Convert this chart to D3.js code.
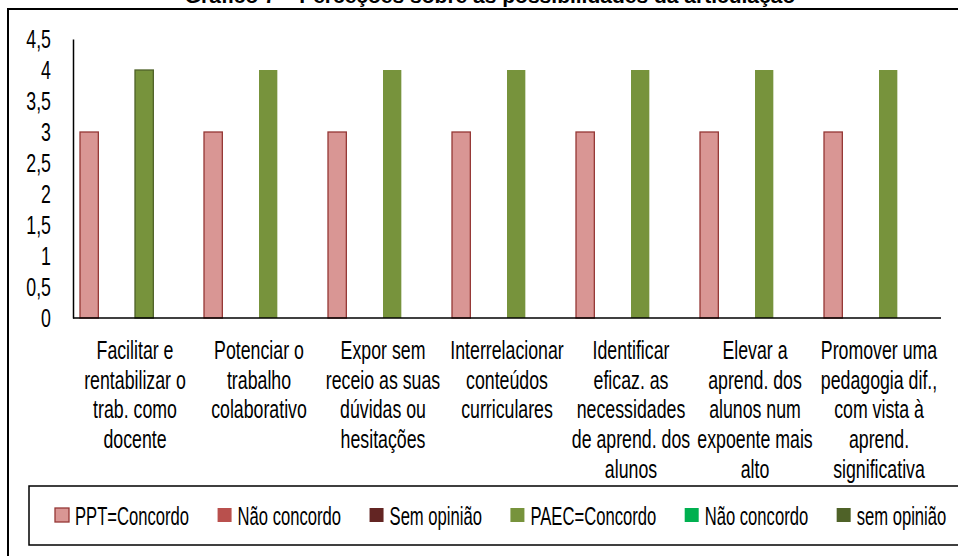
<!DOCTYPE html>
<html>
<head>
<meta charset="utf-8">
<title>Gráfico 7</title>
<script src="https://d3js.org/d3.v7.min.js"></script>
<style>
  body { margin: 0; background: #fff; }
  svg { display: block; }
</style>
</head>
<body>
<div id="chart"></div>
<script>
// chart data
var titleText = "Gráfico 7 – Perceções sobre as possibilidades da articulação";
var categories = [
  ["Facilitar e", "rentabilizar o", "trab. como", "docente"],
  ["Potenciar o", "trabalho", "colaborativo"],
  ["Expor sem", "receio as suas", "dúvidas ou", "hesitações"],
  ["Interrelacionar", "conteúdos", "curriculares"],
  ["Identificar", "eficaz. as", "necessidades", "de aprend. dos", "alunos"],
  ["Elevar a", "aprend. dos", "alunos num", "expoente mais", "alto"],
  ["Promover uma", "pedagogia dif.,", "com vista à", "aprend.", "significativa"]
];
var seriesNames = ["PPT=Concordo", "Não concordo", "Sem opinião", "PAEC=Concordo", "Não concordo", "sem opinião"];
var pptConcordo   = [3, 3, 3, 3, 3, 3, 3];
var pptNao        = [0, 0, 0, 0, 0, 0, 0];
var pptSem        = [0, 0, 0, 0, 0, 0, 0];
var paecConcordo  = [4, 4, 4, 4, 4, 4, 4];
var paecNao       = [0, 0, 0, 0, 0, 0, 0];
var paecSem       = [0, 0, 0, 0, 0, 0, 0];
var yTicks = [0, 0.5, 1, 1.5, 2, 2.5, 3, 3.5, 4, 4.5];

var seriesValues = [pptConcordo, pptNao, pptSem, paecConcordo, paecNao, paecSem];
var fills   = ["#D99694", "#B9504D", "#632523", "#77933C", "#00B050", "#4F6228"];
var strokes = ["#953735", "none", "none", "none", "none", "none"];

var W = 958, H = 556;
var labelFont = "'Liberation Sans', Arial, sans-serif";
var squeeze = 0.71;     // original uses a very condensed face
var legSqueeze = 0.665;

var svg = d3.select("#chart").append("svg")
    .attr("width", W).attr("height", H);

// outer frame
svg.append("rect")
    .attr("x", 8).attr("y", 9)
    .attr("width", W + 20).attr("height", H + 20)
    .attr("fill", "none").attr("stroke", "#000").attr("stroke-width", 2);

// title (cut at the top like the original)
svg.append("text")
    .attr("x", 490).attr("y", 3)
    .attr("text-anchor", "middle")
    .attr("font-family", "'Liberation Sans', Arial, sans-serif")
    .attr("font-weight", "bold")
    .attr("font-size", 21)
    .text(titleText);

var x0 = d3.scaleBand()
    .domain(d3.range(categories.length))
    .range([73, 941])
    .paddingInner(0.113)
    .paddingOuter(0.0565);

var x1 = d3.scaleBand()
    .domain(d3.range(seriesNames.length))
    .range([0, x0.bandwidth()]);

var y = d3.scaleLinear().domain([0, 4.5]).range([318, 39]);

// bars
var rows = [];
seriesValues.forEach(function(vals, s) {
  vals.forEach(function(v, c) {
    if (v > 0) rows.push({s: s, c: c, v: v});
  });
});

svg.append("g").selectAll("rect")
    .data(rows)
    .enter().append("rect")
    .attr("x", function(d) { return x0(d.c) + x1(d.s); })
    .attr("y", function(d) { return y(d.v); })
    .attr("width", x1.bandwidth())
    .attr("height", function(d) { return y(0) - y(d.v); })
    .attr("fill", function(d) { return fills[d.s]; })
    .attr("stroke", function(d) {
      // first PAEC bar is shown selected in the original
      if (d.s === 3 && d.c === 0) return "#4F6228";
      return strokes[d.s];
    })
    .attr("stroke-width", 1.3);

// y axis
var yAxis = d3.axisLeft(y)
    .tickValues(yTicks)
    .tickSize(0)
    .tickPadding(22)
    .tickFormat(function(d) { return String(d).replace(".", ","); });

var gy = svg.append("g")
    .attr("transform", "translate(73,0)")
    .call(yAxis);
gy.select(".domain").attr("stroke", "#000").attr("stroke-width", 1.5);
gy.selectAll("text")
    .attr("font-family", labelFont)
    .attr("font-size", 25)
    .attr("fill", "#000")
    .attr("dy", "0.35em")
    .attr("x", null)
    .attr("transform", "translate(-22,0) scale(" + squeeze + ",1)");

// x axis line
svg.append("line")
    .attr("x1", 73).attr("x2", 941)
    .attr("y1", y(0)).attr("y2", y(0))
    .attr("stroke", "#000").attr("stroke-width", 1.5);

// category labels
var lab = svg.append("g").selectAll("text")
    .data(categories)
    .enter().append("text")
    .attr("text-anchor", "middle")
    .attr("font-family", labelFont)
    .attr("font-size", 25)
    .attr("fill", "#000")
    .attr("transform", function(d, i) {
      return "translate(" + (x0(i) + x0.bandwidth() / 2) + ",359) scale(" + squeeze + ",1)";
    });
lab.selectAll("tspan")
    .data(function(d) { return d; })
    .enter().append("tspan")
    .attr("x", 0)
    .attr("y", function(d, j) { return j * 29.7; })
    .text(function(d) { return d; });

// legend
svg.append("rect")
    .attr("x", 29).attr("y", 486)
    .attr("width", W).attr("height", 59)
    .attr("fill", "#fff").attr("stroke", "#000").attr("stroke-width", 1.5);

var lx = 55;
seriesNames.forEach(function(name, s) {
  var g = svg.append("g");
  g.append("rect")
      .attr("x", lx).attr("y", 508)
      .attr("width", 14).attr("height", 14)
      .attr("fill", fills[s])
      .attr("stroke", s === 0 ? strokes[0] : "none")
      .attr("stroke-width", 1.3);
  var t = g.append("text")
      .attr("font-family", labelFont)
      .attr("font-size", 25)
      .attr("fill", "#000")
      .attr("transform", "translate(" + (lx + 20) + ",525) scale(" + legSqueeze + ",1)")
      .text(name);
  var w = t.node().getComputedTextLength() * legSqueeze;
  lx += 20 + w + 28.5;
});
</script>
</body>
</html>
